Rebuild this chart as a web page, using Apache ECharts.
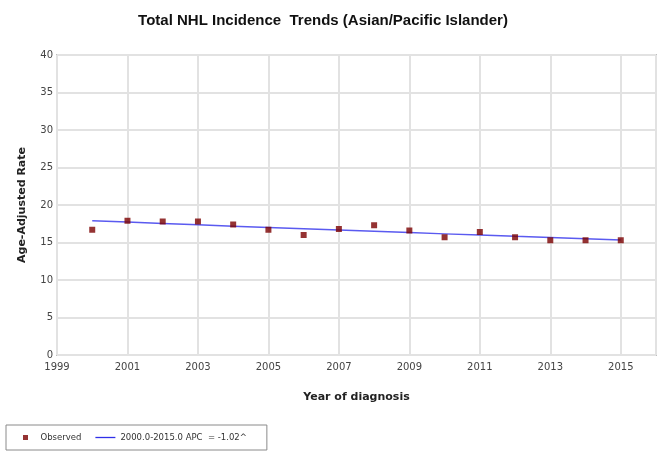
<!DOCTYPE html>
<html>
<head>
<meta charset="utf-8">
<script src="https://cdn.jsdelivr.net/npm/echarts@6/dist/echarts.min.js"></script>
<style>
  html, body { margin: 0; padding: 0; background: #fff; }
  #chart { width: 657px; height: 451px; }
</style>
</head>
<body>
<div id="chart"></div>
<script>
// Diagnosis years
var years = [2000, 2001, 2002, 2003, 2004, 2005, 2006, 2007, 2008, 2009, 2010, 2011, 2012, 2013, 2014, 2015];
// Observed age-adjusted incidence rates
var observed = [16.7, 17.9, 17.8, 17.8, 17.4, 16.7, 16.0, 16.8, 17.3, 16.6, 15.7, 16.4, 15.7, 15.3, 15.3, 15.3];
// Modeled joinpoint trend (APC = -1.02%)
var modeled = [17.90, 17.72, 17.54, 17.36, 17.18, 17.00, 16.83, 16.66, 16.49, 16.32, 16.15, 15.99, 15.82, 15.66, 15.50, 15.34];

var observedName = 'Observed';
var trendName = '2000.0-2015.0 APC  = -1.02^';

function pairs(xs, ys) {
  return xs.map(function (x, i) { return [x, ys[i]]; });
}

var chart = echarts.init(document.getElementById('chart'), null, { renderer: 'canvas' });

chart.setOption({
  animation: false,
  backgroundColor: '#ffffff',
  title: {
    text: 'Total NHL Incidence  Trends (Asian/Pacific Islander)',
    left: 318,
    textAlign: 'center',
    top: 8,
    textStyle: {
      fontFamily: 'Liberation Sans',
      fontWeight: 'bold',
      fontSize: 15,
      color: '#111'
    }
  },
  legend: {
    left: 6,
    top: 425,
    orient: 'horizontal',
    padding: [8, 20, 8, 17],
    itemGap: 14,
    itemWidth: 20,
    itemHeight: 5,
    borderColor: '#8a8a8a',
    borderWidth: 1,
    textStyle: {
      fontFamily: 'DejaVu Sans',
      fontSize: 8.5,
      color: '#333'
    },
    data: [
      { name: observedName, icon: 'path://M0,0h1v1h-1z', itemStyle: { color: '#7a0000' } },
      { name: trendName, icon: 'path://M0,0h20v1.3h-20z', itemStyle: { color: '#3030e8' } }
    ]
  },
  grid: {
    left: 57,
    right: 1,
    top: 55,
    bottom: 96,
    show: true,
    borderColor: '#8f8f8f',
    borderWidth: 1.5,
    backgroundColor: '#ffffff'
  },
  xAxis: {
    type: 'value',
    min: 1999,
    max: 2016,
    interval: 2,
    name: 'Year of diagnosis',
    nameLocation: 'middle',
    nameGap: 37,
    nameTextStyle: {
      fontFamily: 'DejaVu Sans',
      fontWeight: 'bold',
      fontSize: 11,
      color: '#222'
    },
    axisLine: { show: false },
    axisTick: { show: false },
    axisLabel: {
      showMaxLabel: false,
      margin: 7,
      fontFamily: 'DejaVu Sans',
      fontSize: 10,
      color: '#444',
      formatter: function (v) { return String(v); }
    },
    splitLine: { show: true, lineStyle: { color: '#e2e2e2', width: 2 } }
  },
  yAxis: {
    type: 'value',
    min: 0,
    max: 40,
    interval: 5,
    name: 'Age-Adjusted Rate',
    nameLocation: 'middle',
    nameGap: 29,
    nameRotate: 90,
    nameTextStyle: {
      fontFamily: 'DejaVu Sans',
      fontWeight: 'bold',
      fontSize: 11,
      color: '#222'
    },
    axisLine: { show: false },
    axisTick: { show: false },
    axisLabel: {
      margin: 4,
      fontFamily: 'DejaVu Sans',
      fontSize: 10,
      color: '#444'
    },
    splitLine: { show: true, lineStyle: { color: '#e2e2e2', width: 2 } }
  },
  series: [
    {
      name: trendName,
      type: 'line',
      data: pairs(years, modeled),
      showSymbol: false,
      symbol: 'none',
      lineStyle: { color: '#5a5af0', width: 1.5 },
      itemStyle: { color: '#3030e8' },
      z: 2
    },
    {
      name: observedName,
      type: 'scatter',
      data: pairs(years, observed),
      symbol: 'rect',
      symbolSize: 6,
      itemStyle: { color: '#7a0000' },
      z: 3
    }
  ]
});
</script>
</body>
</html>
